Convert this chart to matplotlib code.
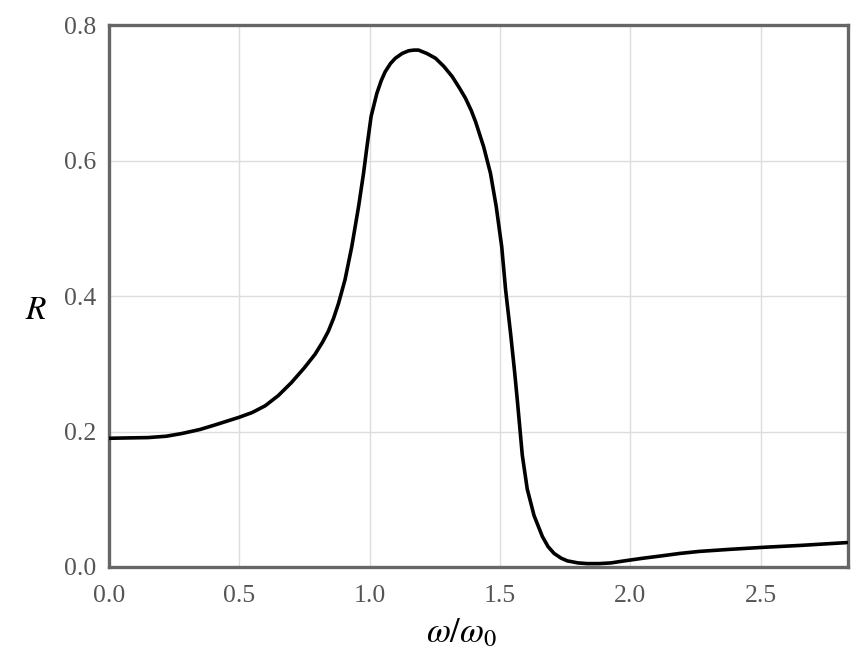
import matplotlib
matplotlib.use("Agg")
import matplotlib.pyplot as plt

# Data
omega_ratio = [0.0, 0.07, 0.15, 0.22, 0.28, 0.35, 0.41, 0.50, 0.55, 0.60, 0.65, 0.70,
               0.75, 0.791, 0.82, 0.842, 0.862, 0.881, 0.906, 0.932, 0.958,
               0.977, 0.990, 1.006, 1.028, 1.045, 1.060, 1.08, 1.099, 1.125, 1.150,
               1.17, 1.188, 1.22, 1.253, 1.285, 1.317, 1.345, 1.368, 1.39, 1.407,
               1.438, 1.464, 1.486, 1.507, 1.522, 1.541, 1.556, 1.566, 1.575, 1.586,
               1.605, 1.631, 1.663, 1.685, 1.708, 1.735, 1.759, 1.80, 1.836, 1.88,
               1.926, 1.977, 2.05, 2.112, 2.19, 2.265, 2.38, 2.509, 2.66, 2.83]
reflectance = [0.190, 0.1905, 0.191, 0.193, 0.197, 0.203, 0.210, 0.221, 0.228, 0.238,
               0.253, 0.272, 0.294, 0.314, 0.332, 0.348, 0.367, 0.389, 0.424,
               0.473, 0.532, 0.581, 0.620, 0.665, 0.699, 0.718, 0.731, 0.743, 0.751,
               0.758, 0.762, 0.763, 0.763, 0.758, 0.751, 0.739, 0.724, 0.707, 0.692,
               0.674, 0.657, 0.620, 0.581, 0.532, 0.473, 0.409, 0.345, 0.290, 0.250,
               0.212, 0.165, 0.115, 0.076, 0.045, 0.030, 0.020, 0.013, 0.009, 0.006,
               0.005, 0.005, 0.006, 0.009, 0.013, 0.016, 0.020, 0.023, 0.026, 0.029,
               0.032, 0.036]
x_ticks = [0.0, 0.5, 1.0, 1.5, 2.0, 2.5]
y_ticks = [0.0, 0.2, 0.4, 0.6, 0.8]

plt.rcParams['font.family'] = ['Liberation Serif', 'DejaVu Serif']
plt.rcParams['mathtext.fontset'] = 'stix'

fig = plt.figure(figsize=(8.67, 6.64), dpi=100)
ax = fig.add_axes([0.1255, 0.1461, 0.8525, 0.8162])

ax.plot(omega_ratio, reflectance, color='black', linewidth=2.6, solid_capstyle='round',
        solid_joinstyle='round', zorder=3)

ax.set_xlim(0, 2.835)
ax.set_ylim(0, 0.8)
ax.set_xticks(x_ticks)
ax.set_xticklabels([f"{v:.1f}" for v in x_ticks])
ax.set_yticks(y_ticks)
ax.set_yticklabels([f"{v:.1f}" for v in y_ticks])
ax.tick_params(length=0, labelsize=18.5, labelcolor='#555555')
ax.tick_params(axis='y', pad=9)
ax.tick_params(axis='x', pad=13)
ax.grid(True, color='#dddddd', linewidth=1.0, zorder=0)

for s in ax.spines.values():
    s.set_color('#666666')
    s.set_linewidth(2.4)

ax.set_ylabel('$R$', rotation=0, fontsize=24, color='black', ha='center', va='center')
ax.yaxis.set_label_coords(-0.099, 0.472)
ax.set_xlabel(r'$\omega/\omega_0$', fontsize=25, color='black', ha='center', va='top')
ax.xaxis.set_label_coords(0.477, -0.092)

fig.savefig('out.png', dpi=100)
